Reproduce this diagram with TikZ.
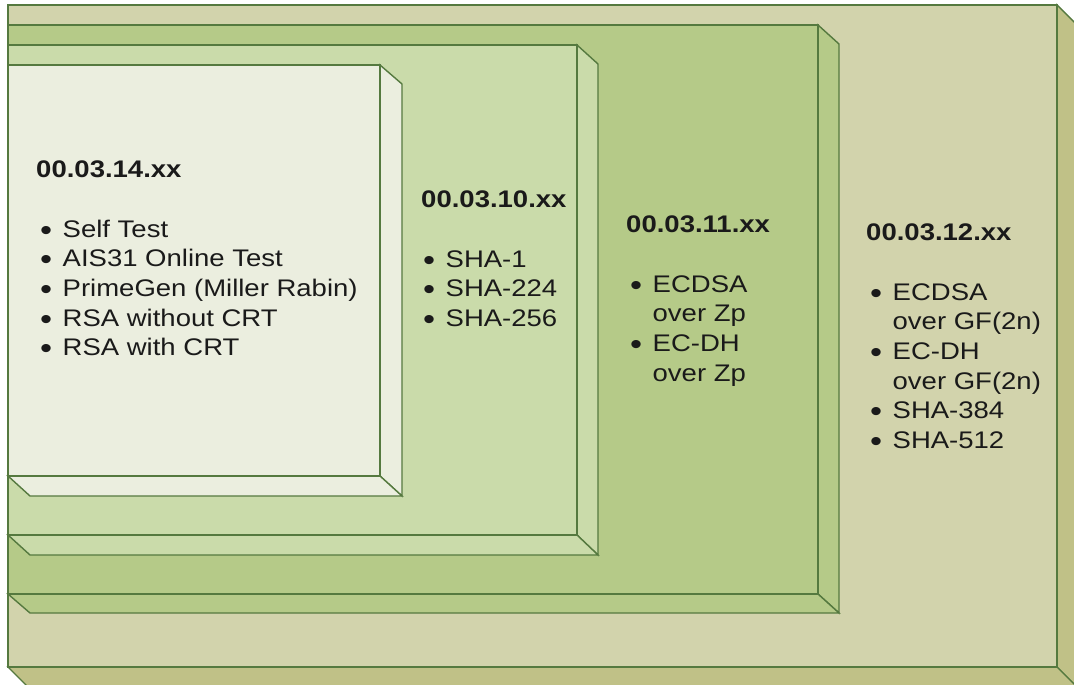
\documentclass[tikz,border=0pt]{standalone}
\usepackage{fontspec}
\setmainfont{Liberation Sans}
\definecolor{edge}{HTML}{55793F}
\definecolor{outerF}{HTML}{D2D3AC}
\definecolor{outerS}{HTML}{C0C187}
\definecolor{boxA}{HTML}{B5CA88}
\definecolor{boxB}{HTML}{CADBAA}
\definecolor{boxC}{HTML}{EBEEDF}
\definecolor{ink}{HTML}{1A1A1A}
\newcommand{\itm}{\makebox[19.6pt][l]{\raisebox{-3pt}{\fontsize{30}{29.7}\selectfont\textbullet}}}
\tikzset{
  face/.style={draw=edge, line width=1.4pt, line join=miter},
  head/.style={anchor=base west, inner sep=0pt, xscale=1.146, text=ink, font=\fontsize{24}{29.7}\selectfont\bfseries},
  items/.style={anchor=base west, inner sep=0pt, xscale=1.146, text=ink, font=\fontsize{24}{29.7}\selectfont}
}
\begin{document}
\begin{tikzpicture}[x=1pt,y=-1pt]
\useasboundingbox (0,0) rectangle (1074,685);
\fill[white] (0,0) rectangle (1074,685);
\begin{scope}
\clip (0,0) rectangle (1074,685);
% outer box 00.03.12
\filldraw[face, fill=outerS] (1057,5) -- (1077,25) -- (1077,687) -- (1057,667) -- cycle;
\filldraw[face, fill=outerS] (8,667) -- (1057,667) -- (1077,687) -- (28,687) -- cycle;
\filldraw[face, fill=outerF] (8,5) rectangle (1057,667);
% box 00.03.11
\filldraw[face, fill=boxA] (818,25) -- (839,44) -- (839,613) -- (818,594) -- cycle;
\filldraw[face, fill=boxA] (8,594) -- (818,594) -- (839,613) -- (30,613) -- cycle;
\filldraw[face, fill=boxA] (8,25) rectangle (818,594);
% box 00.03.10
\filldraw[face, fill=boxB] (577,45) -- (598,64) -- (598,555) -- (577,535) -- cycle;
\filldraw[face, fill=boxB] (8,535) -- (577,535) -- (598,555) -- (30,555) -- cycle;
\filldraw[face, fill=boxB] (8,45) rectangle (577,535);
% box 00.03.14
\filldraw[face, fill=boxC] (380,65) -- (402,84) -- (402,496) -- (380,476) -- cycle;
\filldraw[face, fill=boxC] (8,476) -- (380,476) -- (402,496) -- (30,496) -- cycle;
\filldraw[face, fill=boxC] (8,65) rectangle (380,476);
\end{scope}
% texts
\node[head] (h14) at (36,177) {00.03.14.xx};
\node[items] (l14) at (40,237) {\begin{tabular}[t]{@{}l@{}l@{}}
\itm & Self Test\\
\itm & AIS31 Online Test\\
\itm & PrimeGen (Miller Rabin)\\
\itm & RSA without CRT\\
\itm & RSA with CRT
\end{tabular}};
\node[head] (h10) at (421,207) {00.03.10.xx};
\node[items] (l10) at (423,267) {\begin{tabular}[t]{@{}l@{}l@{}}
\itm & SHA-1\\
\itm & SHA-224\\
\itm & SHA-256
\end{tabular}};
\node[head] (h11) at (626,232) {00.03.11.xx};
\node[items] (l11) at (630,292) {\begin{tabular}[t]{@{}l@{}l@{}}
\itm & ECDSA\\
 & over Zp\\
\itm & EC-DH\\
 & over Zp
\end{tabular}};
\node[head] (h12) at (866,240) {00.03.12.xx};
\node[items] (l12) at (870,300) {\begin{tabular}[t]{@{}l@{}l@{}}
\itm & ECDSA\\
 & over GF(2n)\\
\itm & EC-DH\\
 & over GF(2n)\\
\itm & SHA-384\\
\itm & SHA-512
\end{tabular}};
\end{tikzpicture}
\end{document}
